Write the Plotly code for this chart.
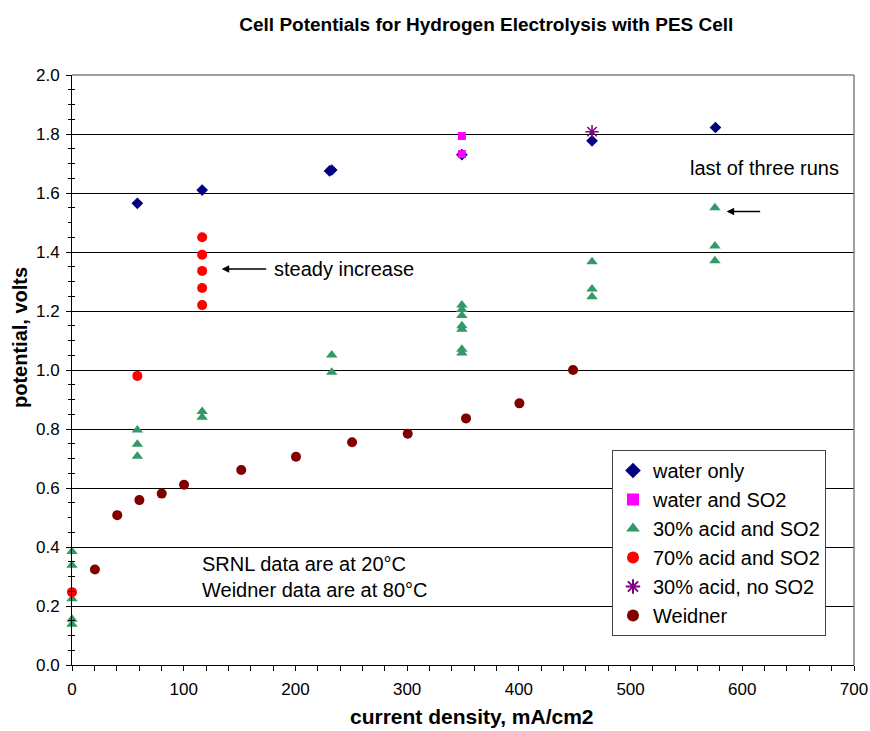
import plotly.graph_objects as go

# ---- data ----
water_x = [58.5, 116.5, 230.5, 232.5, 349, 465.5, 576]
water_y = [1.565, 1.61, 1.675, 1.678, 1.73, 1.777, 1.822]

wso2_x = [349, 349]
wso2_y = [1.793, 1.732]

acid30_x = [0, 0, 0, 0, 0, 58.5, 58.5, 58.5, 116.5, 116.5, 232.5, 232.5,
            349, 349, 349, 349, 349, 349, 349, 465.5, 465.5, 465.5, 575.5, 575.5, 575.5]
acid30_y = [0.385, 0.338, 0.225, 0.155, 0.138, 0.797, 0.748, 0.708, 0.859, 0.840, 1.051, 0.992,
            1.22, 1.205, 1.185, 1.15, 1.138, 1.07, 1.058, 1.367, 1.275, 1.248, 1.55, 1.42, 1.37]

acid70_x = [0, 58.5, 116.5, 116.5, 116.5, 116.5, 116.5]
acid70_y = [0.247, 0.98, 1.450, 1.391, 1.336, 1.278, 1.220]

noso2_x = [465.5]
noso2_y = [1.808]

weid_x = [20.5, 40.5, 60.3, 80.3, 100.3, 151.5, 200.5, 250.7, 300.5, 352.7, 400.5, 448.5]
weid_y = [0.324, 0.508, 0.559, 0.581, 0.611, 0.661, 0.706, 0.755, 0.784, 0.836, 0.887, 1.0]

FONT = "Liberation Sans, Arial, sans-serif"

fig = go.Figure()
fig.add_trace(go.Scatter(x=water_x, y=water_y, mode="markers", name="water only", cliponaxis=False,
                         marker=dict(symbol="diamond", color="#000080", size=9)))
fig.add_trace(go.Scatter(x=wso2_x, y=wso2_y, mode="markers", name="water and SO2", cliponaxis=False,
                         marker=dict(symbol="square", color="#FF00FF", size=8)))
fig.add_trace(go.Scatter(x=acid30_x, y=acid30_y, mode="markers", name="30% acid and SO2", cliponaxis=False,
                         marker=dict(symbol="triangle-up", color="#339966", size=10)))
fig.add_trace(go.Scatter(x=acid70_x, y=acid70_y, mode="markers", name="70% acid and SO2", cliponaxis=False,
                         marker=dict(symbol="circle", color="#FF0000", size=10)))
fig.add_trace(go.Scatter(x=noso2_x, y=noso2_y, mode="markers", name="30% acid, no SO2", cliponaxis=False,
                         marker=dict(symbol="asterisk-open", color="#800080", size=11,
                                     line=dict(color="#800080", width=1.5))))
fig.add_trace(go.Scatter(x=weid_x, y=weid_y, mode="markers", name="Weidner", cliponaxis=False,
                         marker=dict(symbol="circle", color="#800000", size=10)))
# invisible helper trace for crossing minor ticks on y
fig.add_trace(go.Scatter(x=[0], y=[0], yaxis="y2", mode="markers", showlegend=False,
                         hoverinfo="skip", marker=dict(opacity=0)))

fig.update_layout(
    width=870, height=731,
    margin=dict(l=72, r=16, t=75, b=66, autoexpand=False),
    paper_bgcolor="white", plot_bgcolor="white",
    font=dict(family=FONT, color="black", size=17),
    title=dict(text="<b>Cell Potentials for Hydrogen Electrolysis with PES Cell</b>",
               x=0.559, xanchor="center", y=1 - 24 / 731, yanchor="middle",
               font=dict(size=19, family=FONT)),
    xaxis=dict(range=[0, 700], dtick=100, showgrid=False, zeroline=False, automargin=False,
               showline=True, linecolor="black", linewidth=1,
               ticks="outside", ticklen=5, tickcolor="black", ticklabelstandoff=4,
               minor=dict(dtick=20, ticks="outside", ticklen=5, tickcolor="black"),
               tickfont=dict(size=17)),
    yaxis=dict(range=[0, 2.0], dtick=0.2, tickformat=".1f", showgrid=True, automargin=False,
               gridcolor="black", gridwidth=1, zeroline=False,
               showline=True, linecolor="black", linewidth=1,
               ticks="outside", ticklen=5, tickcolor="black", ticklabelstandoff=3,
               minor=dict(dtick=0.05, ticks="outside", ticklen=3, tickcolor="black", showgrid=False),
               tickfont=dict(size=17)),
    yaxis2=dict(overlaying="y", range=[0, 2.0], showgrid=False, zeroline=False, automargin=False,
                showticklabels=False, showline=False, ticks="",
                minor=dict(dtick=0.05, ticks="inside", ticklen=3, tickcolor="black"),
                side="left"),
    legend=dict(x=(612 - 72) / 782, y=(665 - 450) / 590, xanchor="left", yanchor="top",
                bgcolor="white", bordercolor="#444", borderwidth=1,
                font=dict(size=20, family=FONT), itemsizing="constant",
                itemwidth=30, tracegroupgap=0),
    shapes=[
        dict(type="line", xref="paper", yref="paper", x0=0, x1=1, y0=1, y1=1,
             line=dict(color="#808080", width=1.5)),
        dict(type="line", xref="paper", yref="paper", x0=1, x1=1, y0=0, y1=1,
             line=dict(color="#808080", width=1.5)),
    ],
    annotations=[
        # axis titles
        dict(x=(472 - 72) / 782, y=-(716 - 665) / 590, xref="paper", yref="paper",
             text="<b>current density, mA/cm2</b>", showarrow=False, borderpad=0,
             xanchor="center", yanchor="middle", font=dict(size=21)),
        dict(x=-(72 - 20) / 782, y=(665 - 337) / 590, xref="paper", yref="paper",
             text="<b>potential, volts</b>", showarrow=False, textangle=-90,
             xanchor="center", yanchor="middle", font=dict(size=20)),
        # notes
        dict(x=179, y=1.342, xref="x", yref="y", text="steady increase", showarrow=False,
             xanchor="left", yanchor="middle", font=dict(size=20)),
        dict(x=134, y=1.342, xref="x", yref="y", text="", showarrow=True,
             ax=46, ay=0, arrowhead=2, arrowsize=1, arrowwidth=1.5, arrowcolor="black"),
        dict(x=619.5, y=1.685, xref="x", yref="y", text="last of three runs", showarrow=False,
             xanchor="center", yanchor="middle", font=dict(size=20)),
        dict(x=586, y=1.537, xref="x", yref="y", text="", showarrow=True,
             ax=35, ay=0, arrowhead=2, arrowsize=1, arrowwidth=1.5, arrowcolor="black"),
        dict(x=114.6, y=0.3, xref="x", yref="y",
             text="SRNL data are at 20°C<br>Weidner data are at 80°C", showarrow=False,
             xanchor="left", yanchor="middle", align="left", font=dict(size=20)),
    ],
)

fig.write_html("out.html")
